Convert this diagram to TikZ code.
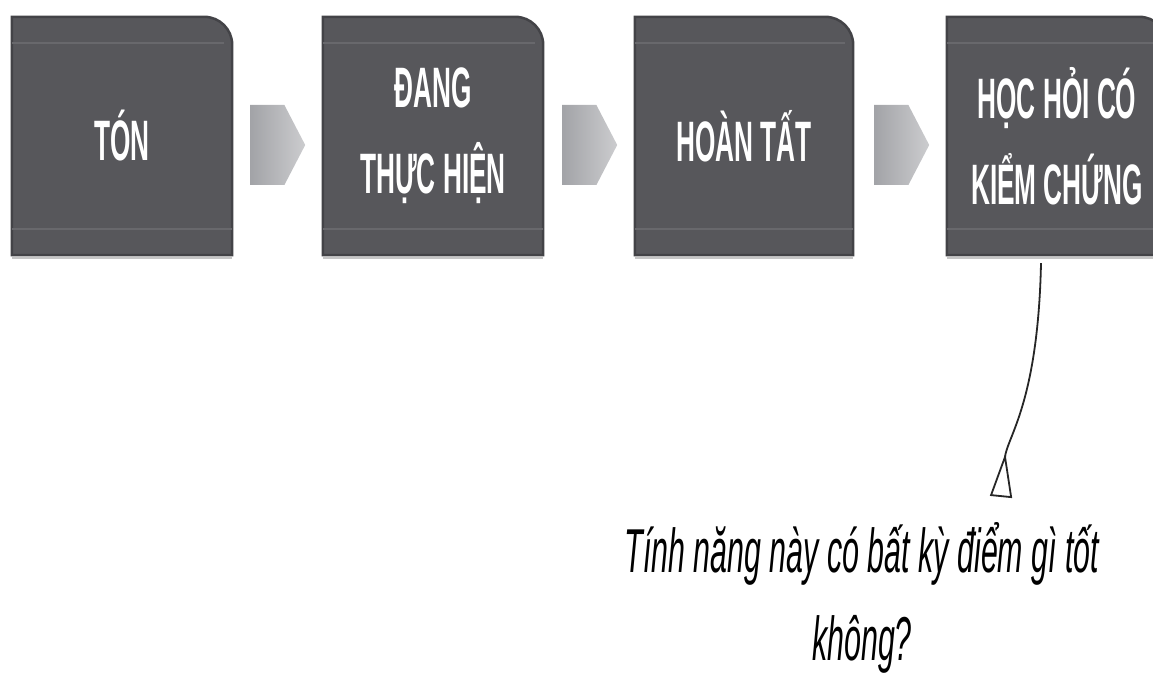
\documentclass[tikz,border=0pt]{standalone}
\usepackage{fontspec}
\setmainfont{Liberation Sans}
\newfontfamily\stagefont{Liberation Sans}[FakeStretch=0.46]
\newfontfamily\notefont{Liberation Sans}[FakeStretch=0.49]
\usetikzlibrary{shapes.arrows,arrows.meta,backgrounds}

\definecolor{boxgray}{HTML}{57575B}
\definecolor{bandgray}{HTML}{68686C}
\definecolor{edgegray}{HTML}{434347}
\definecolor{flowgray}{HTML}{A2A3A7}

\tikzset{
  stage/.style={minimum width=#1, minimum height=238pt, inner sep=0pt,
    text=white, align=center,
    font=\stagefont\bfseries\fontsize{57}{86}\selectfont},
  flow/.style={single arrow, single arrow head extend=0pt,
    single arrow tip angle=125, left color=flowgray, right color=flowgray!55,
    inner sep=0pt, anchor=tail, minimum height=55pt, minimum width=80pt},
  note/.style={align=center, inner sep=0pt,
    font=\notefont\itshape\fontsize{62}{88}\selectfont},
  cue/.style={line width=1.8pt, black!85,
    -{Triangle[open,reversed,length=44pt,width=22pt]}}
}

\begin{document}
\begin{tikzpicture}[x=1pt,y=-1pt]

\useasboundingbox (0,0) rectangle (1153,679);

% stages
\node[stage=220pt] (ton)  at (122,136)  {TÓN};
\node[stage=220pt] (dang) at (433,136)  {ĐANG\\THỰC HIỆN};
\node[stage=218pt] (hoan) at (744,136)  {HOÀN TẤT};
\node[stage=220pt] (hoc)  at (1057,136) {HỌC HỎI CÓ\\KIỂM CHỨNG};

\begin{scope}[on background layer]
\foreach \n in {ton,dang,hoan,hoc}{
\draw[gray!45, line width=2pt] ([yshift=-3pt]\n.south west) -- ([yshift=-3pt]\n.south east);
\fill[boxgray, draw=edgegray, line width=2.5pt] (\n.south west) -- (\n.north west)
  [rounded corners=28pt] -- (\n.north east) [sharp corners] -- (\n.south east) -- cycle;
\draw[bandgray, line width=2pt] ([yshift=-26pt]\n.north west) -- ([xshift=-8pt,yshift=-26pt]\n.north east);
\draw[bandgray, line width=2pt] ([yshift=26pt]\n.south west) -- ([yshift=26pt]\n.south east);
}
\end{scope}

% arrows between stages
\node[flow] (f1) at (250,145) {};
\node[flow] (f2) at (562,145) {};
\node[flow] (f3) at (874,145) {};

% question
\node[note] (q) at (862,598) {Tính năng này có bất kỳ điểm gì tốt\\không?};
\coordinate (tip) at (1001,497);

\draw[cue] ([xshift=-16pt,yshift=-8pt]hoc.south) .. controls +(-3,140) and +(6,-60) .. (tip);

\end{tikzpicture}
\end{document}
